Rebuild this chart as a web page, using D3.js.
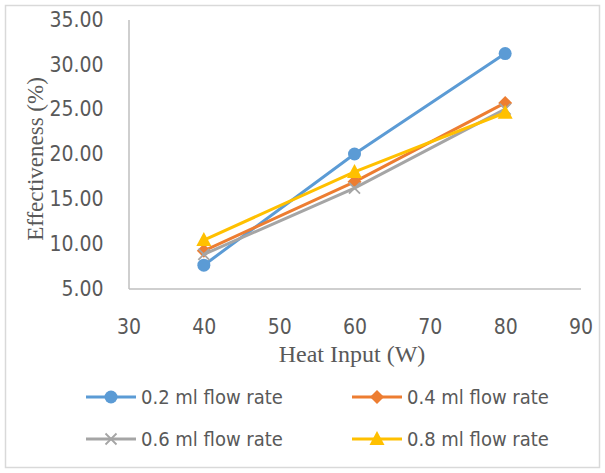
<!DOCTYPE html>
<html><head><meta charset="utf-8">
<script src="https://cdn.jsdelivr.net/npm/d3@7"></script>
<style>body{margin:0;background:#fff}svg{display:block}</style>
</head><body>
<script>
const heatInput = [40, 60, 80];
const seriesNames = ["0.2 ml flow rate", "0.4 ml flow rate", "0.6 ml flow rate", "0.8 ml flow rate"];
const flow02 = [7.6, 20.0, 31.2];
const flow04 = [9.2, 16.9, 25.7];
const flow06 = [8.8, 16.2, 25.0];
const flow08 = [10.4, 18.0, 24.6];
const xTicks = [30, 40, 50, 60, 70, 80, 90];
const yTicks = [5, 10, 15, 20, 25, 30, 35];
const colors = ["#5B9BD5", "#ED7D31", "#A5A5A5", "#FFC000"];
const markers = ["circle", "diamond", "cross", "triangle"];

const W = 605, H = 473;
const svg = d3.select("body").append("svg").attr("width", W).attr("height", H);
svg.append("rect").attr("x", 5.5).attr("y", 5.5).attr("width", W - 11).attr("height", H - 11)
  .attr("fill", "#fff").attr("stroke", "#D9D9D9").attr("stroke-width", 1.5);

const x = d3.scaleLinear().domain([30, 90]).range([128.5, 580.5]);
const y = d3.scaleLinear().domain([5, 35]).range([288.5, 19.5]);
const tickFont = "'DejaVu Sans Condensed','Liberation Sans Narrow',sans-serif";
const textColor = "#595959";

// axes
const yAxis = svg.append("g").attr("transform", `translate(${x(30)},0)`)
  .call(d3.axisLeft(y).tickValues(yTicks).tickSize(0).tickPadding(25).tickFormat(d3.format(".2f")));
const xAxis = svg.append("g").attr("transform", `translate(0,${y(5)})`)
  .call(d3.axisBottom(x).tickValues(xTicks).tickSize(0).tickPadding(31).tickFormat(d3.format("d")));
[yAxis, xAxis].forEach(g => {
  g.select(".domain").attr("stroke", "#BFBFBF").attr("stroke-width", 1.5);
  g.selectAll("text").attr("fill", textColor).style("font-family", tickFont).style("font-size", "21px");
});

// axis titles
svg.append("text").attr("x", 352).attr("y", 362).attr("text-anchor", "middle")
  .style("font-family", "'Liberation Serif','Times New Roman',serif").style("font-size", "24px")
  .attr("fill", textColor).text("Heat Input (W)");
svg.append("text").attr("transform", "translate(43,159) rotate(-90)").attr("text-anchor", "middle")
  .style("font-family", "'Liberation Serif','Times New Roman',serif").style("font-size", "23px")
  .attr("fill", textColor).text("Effectiveness (%)");

function drawMarker(g, type, cx, cy, color) {
  if (type === "circle") {
    g.append("circle").attr("cx", cx).attr("cy", cy).attr("r", 6.5).attr("fill", color);
  } else if (type === "diamond") {
    g.append("path").attr("d", `M${cx},${cy-7}L${cx+7},${cy}L${cx},${cy+7}L${cx-7},${cy}Z`).attr("fill", color);
  } else if (type === "cross") {
    g.append("path").attr("d", `M${cx-5.5},${cy-5.5}L${cx+5.5},${cy+5.5}M${cx-5.5},${cy+5.5}L${cx+5.5},${cy-5.5}`)
      .attr("stroke", color).attr("stroke-width", 1.8).attr("fill", "none");
  } else {
    g.append("path").attr("d", `M${cx},${cy-8}L${cx+7.5},${cy+6}L${cx-7.5},${cy+6}Z`).attr("fill", color);
  }
}

const allSeries = [flow02, flow04, flow06, flow08];
const line = d3.line().x((d, i) => x(heatInput[i])).y(d => y(d));
allSeries.forEach((vals, si) => {
  const g = svg.append("g");
  g.append("path").datum(vals).attr("d", line).attr("fill", "none")
    .attr("stroke", colors[si]).attr("stroke-width", 3).attr("stroke-linecap", "round");
  vals.forEach((v, i) => drawMarker(g, markers[si], x(heatInput[i]), y(v), colors[si]));
});

// legend
const legendPos = [[86, 397], [352, 397], [86, 439], [352, 439]];
seriesNames.forEach((name, i) => {
  const [lx, ly] = legendPos[i];
  const g = svg.append("g");
  g.append("line").attr("x1", lx).attr("x2", lx + 50).attr("y1", ly).attr("y2", ly)
    .attr("stroke", colors[i]).attr("stroke-width", 3);
  drawMarker(g, markers[i], lx + 25, ly, colors[i]);
  g.append("text").attr("x", lx + 55).attr("y", ly).attr("dy", "0.35em")
    .style("font-family", tickFont).style("font-size", "20px").attr("fill", textColor).text(name);
});
</script>
</body></html>
